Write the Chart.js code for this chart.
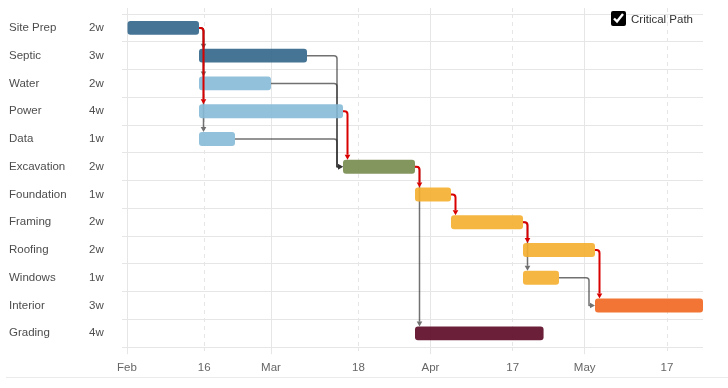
<!DOCTYPE html>
<html><head><meta charset="utf-8">
<script src="https://cdn.jsdelivr.net/npm/chart.js@4.4.1/dist/chart.umd.min.js"></script>
<style>
html,body{margin:0;padding:0;background:#fff;}
#wrap{position:relative;width:728px;height:388px;overflow:hidden;}
#c{position:absolute;left:0;top:0;}
#legend{position:absolute;left:611px;top:11px;height:15px;display:flex;align-items:center;font:11.5px "Liberation Sans",Arial,sans-serif;color:#333;}
#legend input{width:15px;height:15px;margin:0 5px 0 0;accent-color:#000;}
#rule{position:absolute;left:6px;right:0;top:377px;height:1px;background:#ebebeb;}
</style></head><body>
<div id="wrap"><canvas id="c" width="728" height="388"></canvas>
<label id="legend"><input type="checkbox" checked>Critical Path</label>
<div id="rule"></div></div>
<script>
const tasks = ['Site Prep','Septic','Water','Power','Data','Excavation','Foundation','Framing','Roofing','Windows','Interior','Grading'];
const durations = ['2w','3w','2w','4w','1w','2w','1w','2w','2w','1w','3w','4w'];
// days counted from Feb 1
const startDays = [0,14,14,14,14,42,56,63,77,77,91,56];
const endDays   = [14,35,28,42,21,56,63,77,91,84,112,81];
const barColors = [
  'rgba(49,101,136,0.9)','rgba(49,101,136,0.9)',
  'rgba(134,186,215,0.9)','rgba(134,186,215,0.9)','rgba(134,186,215,0.9)',
  'rgba(118,139,76,0.9)',
  'rgba(245,174,46,0.9)','rgba(245,174,46,0.9)','rgba(245,174,46,0.9)','rgba(245,174,46,0.9)',
  'rgba(242,102,31,0.9)',
  'rgba(91,7,35,0.9)'
];
// [from, to, critical]
const deps = [
  ['Site Prep','Septic',false],['Site Prep','Water',false],['Site Prep','Data',false],['Site Prep','Power',true],
  ['Septic','Excavation',false],['Water','Excavation',false],['Data','Excavation',false],['Power','Excavation',true],
  ['Excavation','Grading',false],['Excavation','Foundation',true],
  ['Foundation','Framing',true],
  ['Framing','Windows',false],['Framing','Roofing',true],
  ['Windows','Interior',false],['Roofing','Interior',true]
];
const tickValues = [0,15,28,45,59,75,89,105];
const tickLabels = ['Feb','16','Mar','18','Apr','17','May','17'];
const tickIsMonth = [true,false,true,false,true,false,true,false];
const axisMin = 0, axisMax = 112;

const FONT = '"Liberation Sans", Arial, sans-serif';
const GRID = '#e6e6e6';
const RED = '#d90000';
const GRAY = 'rgba(45,45,45,0.68)';

function arrowHead(ctx, tx, ty, dir, len, half){
  ctx.beginPath();
  if(dir==='down'){ctx.moveTo(tx,ty);ctx.lineTo(tx-half,ty-len);ctx.lineTo(tx+half,ty-len);}
  else {ctx.moveTo(tx,ty);ctx.lineTo(tx-len,ty-half);ctx.lineTo(tx-len,ty+half);}
  ctx.closePath();ctx.fill();
}

function drawDeps(chart, critical){
  const xs = chart.scales.x, ys = chart.scales.y, ctx = chart.ctx;
  const meta = chart.getDatasetMeta(0);
  ctx.save();
  deps.forEach(([from,to,crit])=>{
    if(crit!==critical) return;
    const fi = tasks.indexOf(from), ti = tasks.indexOf(to);
    const x0 = xs.getPixelForValue(endDays[fi]), y0 = ys.getPixelForValue(fi);
    const x1 = xs.getPixelForValue(startDays[ti]), y1 = ys.getPixelForValue(ti);
    const bh = meta.data[ti].height;
    const col = crit ? RED : GRAY;
    ctx.strokeStyle = col; ctx.fillStyle = col;
    ctx.lineWidth = crit ? 2 : 1.5;
    ctx.lineJoin='round';
    const r = 3, len = 5, half = 2.8;
    ctx.beginPath();
    if(Math.abs(x1-x0) < 1){
      const vx = x0 + 4.5, tipY = y1 - bh/2;
      ctx.moveTo(x0, y0);
      ctx.lineTo(vx - r, y0);
      ctx.arcTo(vx, y0, vx, y0 + r, r);
      ctx.lineTo(vx, tipY - len);
      ctx.stroke();
      arrowHead(ctx, vx, tipY, 'down', len, half);
    } else {
      const vx = x1 - 6;
      ctx.moveTo(x0, y0);
      ctx.lineTo(vx - r, y0);
      ctx.arcTo(vx, y0, vx, y0 + r, r);
      ctx.lineTo(vx, y1);
      ctx.lineTo(x1 - len, y1);
      ctx.stroke();
      arrowHead(ctx, x1, y1, 'right', len, half);
    }
  });
  ctx.restore();
}

const depPlugin = {
  id:'deps',
  beforeDatasetsDraw(chart){ drawDeps(chart,false); },
  afterDatasetsDraw(chart){ drawDeps(chart,true); }
};
const durPlugin = {
  id:'durations',
  afterDraw(chart){
    const ys = chart.scales.y, ctx = chart.ctx;
    ctx.save();
    ctx.font = '11.5px ' + FONT;
    ctx.fillStyle = '#4d4d4d';
    ctx.textAlign = 'left'; ctx.textBaseline = 'middle';
    durations.forEach((d,i)=>ctx.fillText(d, 89, ys.getPixelForValue(i)));
    ctx.restore();
  }
};

const dashFn = (c)=> (c.tick && !tickIsMonth[c.index]) ? [4,4] : [];
const setTicks = (s)=>{ s.ticks = tickValues.map(v=>({value:v})); };

new Chart(document.getElementById('c'), {
  type:'bar',
  data:{
    labels: tasks,
    datasets:[{
      data: tasks.map((t,i)=>[startDays[i], endDays[i]]),
      backgroundColor: barColors,
      borderWidth:0,
      borderRadius:3,
      borderSkipped:false,
      barPercentage:0.5,
      categoryPercentage:1
    }]
  },
  options:{
    indexAxis:'y',
    responsive:false,
    animation:false,
    devicePixelRatio:1,
    layout:{padding:{left:9,right:25,top:8,bottom:6}},
    plugins:{legend:{display:false},tooltip:{enabled:false},title:{display:false}},
    scales:{
      x:{
        type:'linear', position:'bottom', min:axisMin, max:axisMax,
        afterBuildTicks:setTicks,
        ticks:{autoSkip:false,maxRotation:0,padding:7,color:'#666',font:{family:FONT,size:11.5},
          callback:(v,i)=>tickLabels[i]},
        grid:{color:GRID,lineWidth:1,tickLength:7,tickColor:GRID,tickBorderDash:dashFn},
        border:{display:false,dash:dashFn}
      },
      x2:{
        type:'linear', position:'top', min:axisMin, max:axisMax,
        afterBuildTicks:setTicks,
        ticks:{display:false},
        grid:{drawOnChartArea:false,tickLength:6,tickColor:GRID,tickBorderDash:dashFn},
        border:{display:false}
      },
      y:{
        type:'category', position:'left',
        afterFit:(s)=>{ s.width = 118; },
        ticks:{crossAlign:'far',color:'#4d4d4d',font:{family:FONT,size:11.5}},
        grid:{color:GRID,lineWidth:1,tickLength:5,tickColor:GRID},
        border:{display:false}
      }
    }
  },
  plugins:[depPlugin,durPlugin]
});
</script>
</body></html>
